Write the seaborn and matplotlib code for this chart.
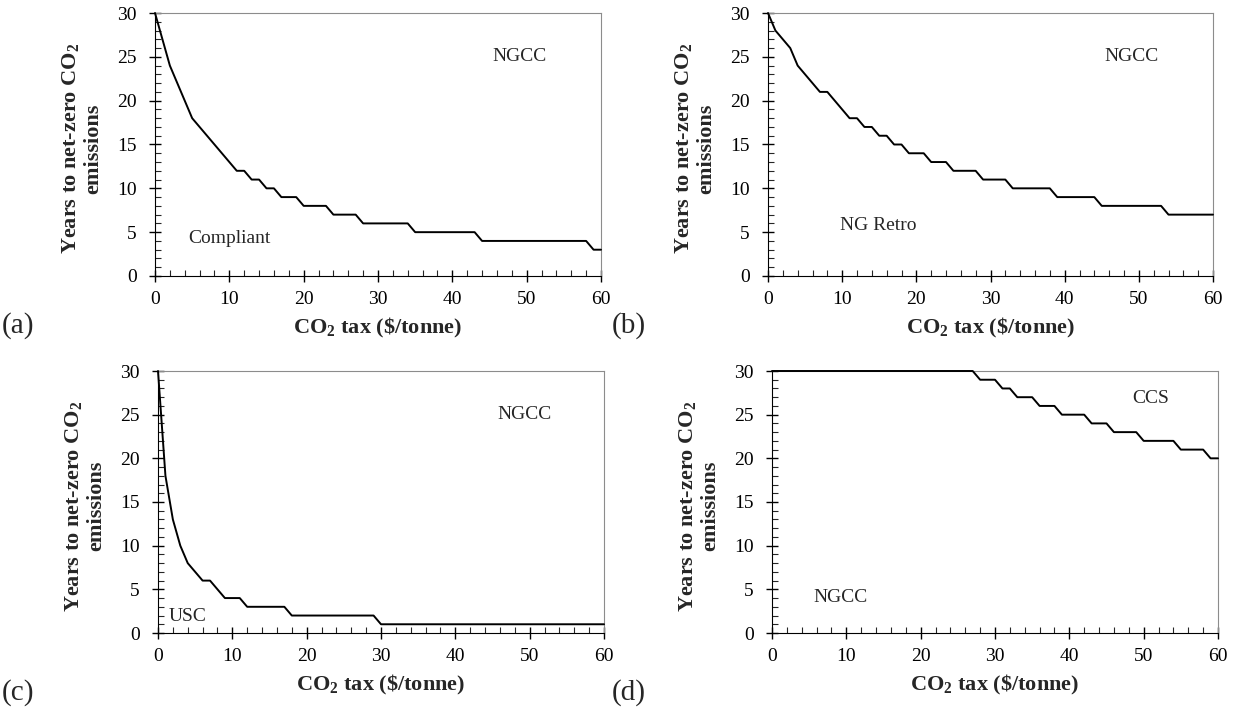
import numpy as np
import pandas as pd
import matplotlib
matplotlib.use("Agg")
import matplotlib.pyplot as plt
from matplotlib.ticker import MultipleLocator
import seaborn as sns

sns.set_style("ticks")
plt.rcParams['font.family'] = ['Liberation Serif', 'DejaVu Serif']
plt.rcParams['mathtext.fontset'] = 'custom'
plt.rcParams['mathtext.rm'] = 'Liberation Serif'
plt.rcParams['mathtext.bf'] = 'Liberation Serif:bold'

# CO2 tax ($/tonne), one value per dollar
tax = list(range(61))

# years to net-zero CO2 emissions
years_compliant = [30, 27, 24, 22, 20, 18, 17, 16, 15, 14, 13, 12, 12, 11, 11, 10,
                   10, 9, 9, 9, 8, 8, 8, 8, 7, 7, 7, 7, 6, 6, 6, 6, 6, 6, 6, 5,
                   5, 5, 5, 5, 5, 5, 5, 5, 4, 4, 4, 4, 4, 4, 4, 4, 4, 4, 4, 4,
                   4, 4, 4, 3, 3]
years_ngretro = [30, 28, 27, 26, 24, 23, 22, 21, 21, 20, 19, 18, 18, 17, 17, 16,
                 16, 15, 15, 14, 14, 14, 13, 13, 13, 12, 12, 12, 12, 11, 11, 11,
                 11, 10, 10, 10, 10, 10, 10, 9, 9, 9, 9, 9, 9, 8, 8, 8, 8, 8, 8,
                 8, 8, 8, 7, 7, 7, 7, 7, 7, 7]
years_usc = [30, 18, 13, 10, 8, 7, 6, 6, 5, 4, 4, 4, 3, 3, 3, 3, 3, 3, 2, 2, 2,
             2, 2, 2, 2, 2, 2, 2, 2, 2, 1, 1, 1, 1, 1, 1, 1, 1, 1, 1, 1, 1, 1,
             1, 1, 1, 1, 1, 1, 1, 1, 1, 1, 1, 1, 1, 1, 1, 1, 1, 1]
years_ngcc = [30, 30, 30, 30, 30, 30, 30, 30, 30, 30, 30, 30, 30, 30, 30, 30, 30,
              30, 30, 30, 30, 30, 30, 30, 30, 30, 30, 30, 29, 29, 29, 28, 28, 27,
              27, 27, 26, 26, 26, 25, 25, 25, 25, 24, 24, 24, 23, 23, 23, 23, 22,
              22, 22, 22, 22, 21, 21, 21, 21, 20, 20]

panels = [
    ("(a)", years_compliant, [("NGCC", 49, 25), ("Compliant", 10, 4.3)]),
    ("(b)", years_ngretro, [("NGCC", 49, 25), ("NG Retro", 14.8, 5.8)]),
    ("(c)", years_usc, [("NGCC", 49.3, 25), ("USC", 4, 1.9)]),
    ("(d)", years_ngcc, [("CCS", 51, 26.8), ("NGCC", 9.2, 4.1)]),
]
W, H = 1238, 710
# axes boxes in pixels: left, top, right, bottom
boxes_px = [(155, 13, 601, 276), (768, 13, 1213, 276),
            (158, 371, 604, 633), (772, 371, 1218, 633)]
tags_px = [(2, 326), (612, 326), (2, 693), (612, 693)]

fig = plt.figure(figsize=(W / 100, H / 100), dpi=100)

for (tag, yrs, notes), (l, t, r, b), (tx0, ty0) in zip(panels, boxes_px, tags_px):
    ax = fig.add_axes([l / W, 1 - b / H, (r - l) / W, (b - t) / H])
    df = pd.DataFrame({'tax': tax, 'years': yrs})
    sns.lineplot(data=df, x='tax', y='years', ax=ax, color='black', linewidth=1.4)
    ax.lines[0].set_clip_on(False)
    ax.lines[0].set_zorder(3)
    ax.set_xlim(0, 60)
    ax.set_ylim(0, 30)
    ax.xaxis.set_major_locator(MultipleLocator(10))
    ax.xaxis.set_minor_locator(MultipleLocator(2))
    ax.yaxis.set_major_locator(MultipleLocator(5))
    ax.yaxis.set_minor_locator(MultipleLocator(1))
    ax.tick_params(which='major', direction='inout', length=8, width=1,
                   labelsize=14, colors='black')
    ax.tick_params(axis='x', which='major', pad=7)
    ax.tick_params(axis='y', which='major', pad=9)
    ax.tick_params(which='minor', direction='in', length=4, width=0.8)
    for side in ['top', 'right']:
        ax.spines[side].set_color('#8c8c8c')
    for side in ['left', 'bottom']:
        ax.spines[side].set_color('black')
    ax.set_xlabel(r"CO$_\mathbf{2}$ tax (\$/tonne)", fontsize=16, fontweight='bold',
                  va='center')
    ax.xaxis.set_label_coords(0.5, -52 / (b - t))
    ax.set_ylabel("Years to net-zero CO$_\\mathbf{2}$\nemissions", fontsize=16,
                  fontweight='bold', linespacing=1.05, va='center')
    ax.yaxis.set_label_coords(-73 / (r - l), 0.485)
    for txt, x, y in notes:
        ax.text(x, y, txt, fontsize=14, ha='center', va='center')
    fig.text(tx0 / W, 1 - ty0 / H, tag, fontsize=21, ha='left', va='center')

fig.savefig("out.png", dpi=100)
